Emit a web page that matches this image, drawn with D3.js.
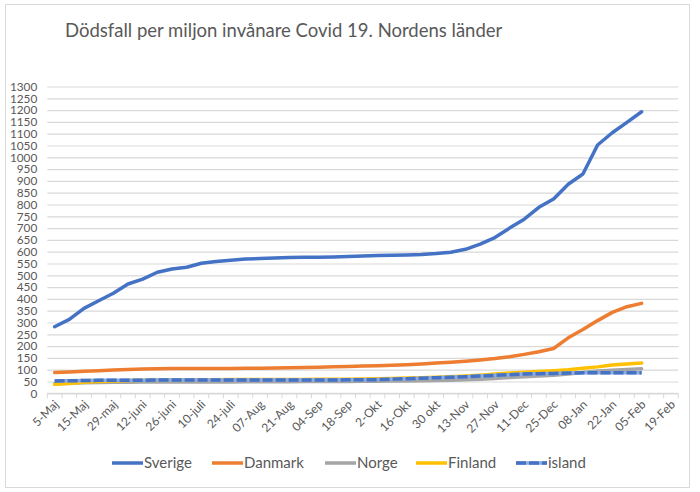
<!DOCTYPE html>
<html>
<head>
<meta charset="utf-8">
<script src="https://d3js.org/d3.v7.min.js"></script>
<style>
  body { margin: 0; background: #fff; }
  text { font-family: Lato, "Open Sans", sans-serif; fill: #595959; }
</style>
</head>
<body>
<div id="chart"></div>
<script>
// weekly categories, every second one gets a label on the axis
const weeks = ["5-Maj", "8-Maj", "15-Maj", "22-maj", "29-maj", "5-juni", "12-juni", "19-juni", "26-juni", "3-juli",
    "10-juli", "17-juli", "24-juli", "31-juli", "07-Aug", "14-Aug", "21-Aug", "28-Aug", "04-Sep", "11-Sep",
    "18-Sep", "25-Sep", "2-Okt", "9-Okt", "16-Okt", "23-Okt", "30 okt", "6-Nov", "13-Nov", "20-Nov",
    "27-Nov", "4-Dec", "11-Dec", "18-Dec", "25-Dec", "01-Jan", "08-Jan", "15-Jan", "22-Jan", "29-Jan",
    "05-Feb", "12-Feb", "19-Feb"];

const sverige = [282, 313, 360, 392, 424, 463, 484, 513, 527, 534, 551, 558, 564, 569, 571, 573, 575, 576, 577, 578,
    580, 582, 584, 585, 586, 588, 592, 598, 610, 632, 660, 700, 738, 788, 823, 886, 929, 1052, 1104, 1148, 1193];
const danmark = [88, 90, 93, 96, 99, 101, 103, 104, 105, 105, 105, 105, 105, 106, 106, 107, 108, 109, 110, 112,
    114, 116, 117, 119, 121, 124, 128, 132, 136, 141, 147, 155, 165, 176, 190, 235, 270, 308, 343, 367, 381];
const norge = [40, 43, 45, 46, 47, 47, 48, 48, 48, 48, 48, 48, 48, 49, 49, 49, 49, 50, 50, 50,
    50, 51, 51, 52, 52, 53, 54, 55, 57, 60, 63, 67, 70, 73, 76, 82, 88, 94, 98, 101, 104];
const finland = [38, 42, 47, 50, 52, 54, 55, 56, 57, 57, 57, 57, 58, 58, 58, 58, 59, 59, 60, 60,
    60, 61, 62, 63, 65, 66, 68, 70, 73, 77, 82, 86, 89, 92, 96, 100, 106, 112, 120, 124, 128];
const island = [52, 53, 54, 55, 55, 55, 55, 56, 56, 56, 56, 56, 56, 56, 56, 56, 56, 56, 56, 56,
    57, 57, 58, 60, 62, 64, 66, 68, 70, 73, 76, 79, 82, 83, 84, 86, 87, 87, 87, 87, 87];

const seriesNames = ["Sverige", "Danmark", "Norge", "Finland", "island"];
const seriesValues = [sverige, danmark, norge, finland, island];
const colors = ["#4472C4", "#ED7D31", "#A5A5A5", "#FFC000", "#4472C4"];

const yTicks = d3.range(0, 1301, 50);

const width = 700, height = 492;
const plot = {left: 47.3, right: 678.3, top: 86.5, bottom: 393.3};

const svg = d3.select("#chart").append("svg")
    .attr("width", width)
    .attr("height", height);

// outer chart frame
svg.append("rect")
    .attr("x", 5.5).attr("y", 4.5)
    .attr("width", 684).attr("height", 483)
    .attr("fill", "#fff")
    .attr("stroke", "#d9d9d9");

svg.append("text")
    .attr("x", 65)
    .attr("y", 37)
    .style("font-size", "18.5px")
    .text("Dödsfall per miljon invånare Covid 19. Nordens länder");

let xScale = d3.scaleBand()
    .domain(weeks)
    .range([plot.left, plot.right]);

let yScale = d3.scaleLinear()
    .domain([0, 1300])
    .range([plot.bottom, plot.top]);

// horizontal gridlines + y labels
let yAxis = d3.axisLeft(yScale)
    .tickValues(yTicks)
    .tickFormat(d3.format("d"))
    .tickSize(-(plot.right - plot.left))
    .tickPadding(10);

let gy = svg.append("g")
    .attr("transform", "translate(" + plot.left + ",0)")
    .call(yAxis);
gy.select(".domain").remove();
gy.selectAll("line").attr("stroke", "#d9d9d9").attr("stroke-width", 1.2);
gy.selectAll("text")
    .style("font-size", "11.8px")
    .style("fill", "#595959");

// category axis: ticks sit between categories
let gx = svg.append("g").attr("class", "xaxis");
gx.append("line")
    .attr("x1", plot.left).attr("x2", plot.right)
    .attr("y1", plot.bottom).attr("y2", plot.bottom)
    .attr("stroke", "#d9d9d9").attr("stroke-width", 1.2);

let tickPos = weeks.map(d => xScale(d)).concat([plot.right]);
gx.selectAll("line.tick").data(tickPos)
    .enter().append("line")
    .attr("class", "tick")
    .attr("x1", d => d).attr("x2", d => d)
    .attr("y1", plot.bottom).attr("y2", plot.bottom + 5)
    .attr("stroke", "#d9d9d9");

gx.selectAll("text").data(weeks.filter((d, i) => i % 2 == 0))
    .enter().append("text")
    .attr("transform", d => "translate(" + (xScale(d) + xScale.bandwidth() / 2 + 2) + "," + (plot.bottom + 9) + ") rotate(-45)")
    .attr("text-anchor", "end")
    .attr("dy", "0.35em")
    .style("font-size", "12px")
    .text(d => d);

let line = d3.line()
    .x((d, i) => xScale(weeks[i]) + xScale.bandwidth() / 2)
    .y(d => yScale(d));

// Excel draws in series order, so island ends up on top of Norge and Finland
seriesValues.forEach((vals, k) => {
    if (seriesNames[k] == "island") {
        svg.append("path")
            .attr("d", line(vals))
            .attr("fill", "none")
            .attr("stroke", "#8FAADC")
            .attr("stroke-width", 3.5);
        svg.append("path")
            .attr("d", line(vals))
            .attr("fill", "none")
            .attr("stroke", colors[k])
            .attr("stroke-width", 3.5)
            .attr("stroke-dasharray", "10,3");
    } else {
        svg.append("path")
            .attr("d", line(vals))
            .attr("fill", "none")
            .attr("stroke", colors[k])
            .attr("stroke-width", 3.5)
            .attr("stroke-linejoin", "round")
            .attr("stroke-linecap", "round");
    }
});

// legend
const legendX = [112, 212, 325, 416, 516];
let legend = svg.selectAll("g.legend").data(seriesNames)
    .enter().append("g")
    .attr("class", "legend")
    .attr("transform", (d, i) => "translate(" + legendX[i] + ",463)");

legend.append("line")
    .attr("x1", 0).attr("x2", 31)
    .attr("stroke", "#8FAADC")
    .attr("stroke-width", (d, i) => i == 4 ? 3.5 : 0);
legend.append("line")
    .attr("x1", 0).attr("x2", 31)
    .attr("stroke", (d, i) => colors[i])
    .attr("stroke-width", 3.5)
    .attr("stroke-dasharray", (d, i) => i == 4 ? "10,3" : null);
legend.append("text")
    .attr("x", 32)
    .attr("dy", "0.35em")
    .style("font-size", "15px")
    .text(d => d);
</script>
</body>
</html>
